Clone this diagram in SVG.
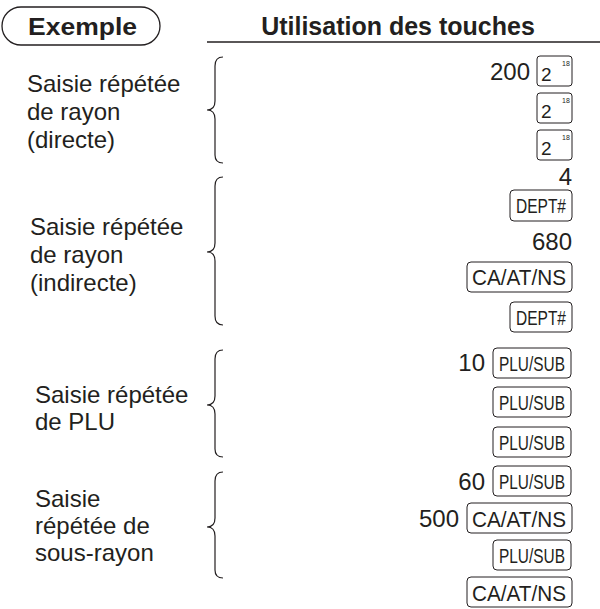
<svg xmlns="http://www.w3.org/2000/svg" width="600" height="609" viewBox="0 0 600 609">
<style>
text{font-family:"Liberation Sans",Arial,sans-serif;fill:#231f20}
.lbl{font-size:24px}
.num{font-size:24px;text-anchor:end}
.key{fill:#fff;stroke:#231f20;stroke-width:1}
.kt{font-size:21px;text-anchor:middle}
.two{font-size:19px}
.sup{font-size:7px}
.br{fill:none;stroke:#231f20;stroke-width:1.2}
</style>
<g id="header">
<rect x="2" y="7" width="158" height="38" rx="19" fill="#fff" stroke="#231f20" stroke-width="1.3"/>
<text x="28" y="35" style="font-size:24px;font-weight:bold" textLength="109" lengthAdjust="spacingAndGlyphs">Exemple</text>
<text x="398" y="35" style="font-size:25px;font-weight:bold;text-anchor:middle">Utilisation des touches</text>
<line x1="207" y1="42" x2="600" y2="42" stroke="#231f20" stroke-width="1.3"/>
</g>
<g id="connectors">
<path class="br" d="M223,57 Q215,57 215,66 V101 Q215,110 207,110 Q215,110 215,119 V155 Q215,163 223,163"/>
<path class="br" d="M223,177 Q215,177 215,186 V243 Q215,252 207,252 Q215,252 215,261 V316 Q215,325 223,325"/>
<path class="br" d="M223,350 Q215,350 215,359 V396 Q215,405 207,405 Q215,405 215,414 V449 Q215,457 223,457"/>
<path class="br" d="M223,472 Q215,472 215,481 V518 Q215,527 207,527 Q215,527 215,536 V570 Q215,578 223,578"/>
</g>
<g id="group1">
<text class="lbl" x="27" y="92">Saisie répétée</text>
<text class="lbl" x="27" y="120">de rayon</text>
<text class="lbl" x="27" y="148">(directe)</text>
<text class="num" x="530" y="80">200</text>
<rect class="key" x="537" y="56" width="35" height="30" rx="3"/><text class="two" x="541" y="81">2</text><text class="sup" x="562" y="66">18</text>
<rect class="key" x="537" y="93" width="35" height="30" rx="3"/><text class="two" x="541" y="118">2</text><text class="sup" x="562" y="103">18</text>
<rect class="key" x="537" y="130" width="35" height="30" rx="3"/><text class="two" x="541" y="155">2</text><text class="sup" x="562" y="140">18</text>
</g>
<g id="group2">
<text class="lbl" x="30" y="235">Saisie répétée</text>
<text class="lbl" x="30" y="263">de rayon</text>
<text class="lbl" x="30" y="291">(indirecte)</text>
<text class="num" x="572" y="185">4</text>
<rect class="key" x="510" y="190" width="62" height="31" rx="4"/><text class="kt" x="541" y="213" textLength="50" lengthAdjust="spacingAndGlyphs">DEPT#</text>
<text class="num" x="572" y="250">680</text>
<rect class="key" x="467" y="262" width="105" height="30" rx="4"/><text class="kt" x="519" y="285" style="font-size:22px" textLength="94" lengthAdjust="spacingAndGlyphs">CA/AT/NS</text>
<rect class="key" x="510" y="302" width="62" height="30" rx="4"/><text class="kt" x="541" y="325" textLength="50" lengthAdjust="spacingAndGlyphs">DEPT#</text>
</g>
<g id="group3">
<text class="lbl" x="35" y="403">Saisie répétée</text>
<text class="lbl" x="35" y="430">de PLU</text>
<text class="num" x="485" y="371">10</text>
<rect class="key" x="493" y="348" width="78" height="30" rx="4"/><text class="kt" x="532" y="371" textLength="66" lengthAdjust="spacingAndGlyphs">PLU/SUB</text>
<rect class="key" x="493" y="387" width="78" height="30" rx="4"/><text class="kt" x="532" y="410" textLength="66" lengthAdjust="spacingAndGlyphs">PLU/SUB</text>
<rect class="key" x="493" y="427" width="78" height="30" rx="4"/><text class="kt" x="532" y="450" textLength="66" lengthAdjust="spacingAndGlyphs">PLU/SUB</text>
</g>
<g id="group4">
<text class="lbl" x="35" y="507">Saisie</text>
<text class="lbl" x="35" y="534">répétée de</text>
<text class="lbl" x="35" y="561">sous-rayon</text>
<text class="num" x="485" y="490">60</text>
<rect class="key" x="493" y="466" width="78" height="30" rx="4"/><text class="kt" x="532" y="489" textLength="66" lengthAdjust="spacingAndGlyphs">PLU/SUB</text>
<text class="num" x="459" y="527">500</text>
<rect class="key" x="467" y="503" width="105" height="30" rx="4"/><text class="kt" x="519" y="527" style="font-size:22px" textLength="94" lengthAdjust="spacingAndGlyphs">CA/AT/NS</text>
<rect class="key" x="493" y="540" width="78" height="30" rx="4"/><text class="kt" x="532" y="563" textLength="66" lengthAdjust="spacingAndGlyphs">PLU/SUB</text>
<rect class="key" x="467" y="577" width="105" height="30" rx="4"/><text class="kt" x="519" y="601" style="font-size:22px" textLength="94" lengthAdjust="spacingAndGlyphs">CA/AT/NS</text>
</g>
</svg>
